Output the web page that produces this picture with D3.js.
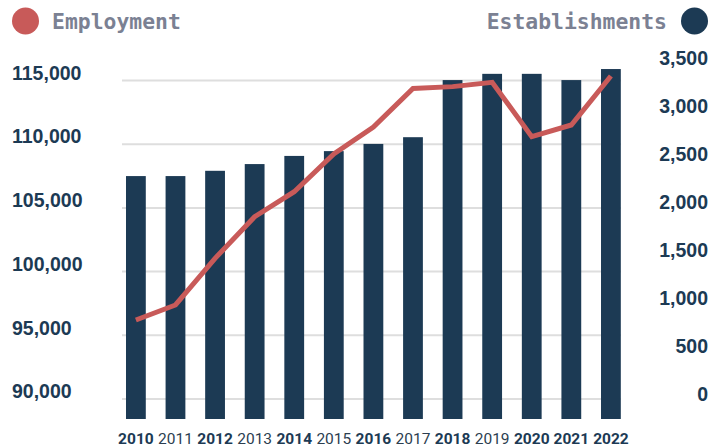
<!DOCTYPE html>
<html>
<head>
<meta charset="utf-8">
<script src="https://cdn.jsdelivr.net/npm/d3@7"></script>
<style>
  body { margin: 0; background: #fff; }
  svg { display: block; }
  .tick text { font-family: Roboto, sans-serif; }
  .yaxis .tick text { font-family: "Liberation Sans", Arial, sans-serif; }
</style>
</head>
<body>
<div id="chart"></div>
<script>
// data
const years = ["2010", "2011", "2012", "2013", "2014", "2015", "2016",
               "2017", "2018", "2019", "2020", "2021", "2022"];
const employment = [96160, 97340, 101000, 104270, 106230, 109200, 111300,
                    114340, 114480, 114820, 110550, 111470, 115310];
const establishments = [2270, 2270, 2325, 2395, 2480, 2530, 2605,
                        2675, 3270, 3335, 3335, 3270, 3385];
const leftTicks = [90000, 95000, 100000, 105000, 110000, 115000];
const rightTicks = [0, 500, 1000, 1500, 2000, 2500, 3000, 3500];
const boldYears = ["2010", "2012", "2014", "2016", "2018", "2020", "2021", "2022"];

const navy = "#1c3a54";
const red = "#c85a59";
const grey = "#7b8193";

const width = 722, height = 448;
const plotBottom = 419;

const svg = d3.select("#chart")
    .append("svg")
    .attr("width", width)
    .attr("height", height);

// scales
const x = d3.scaleBand()
    .domain(years)
    .range([116.1, 630.7])
    .paddingInner(0.5)
    .paddingOuter(0.25);

const yLeft = d3.scaleLinear()
    .domain([90000, 115000])
    .range([398.5, 80]);

const yRight = d3.scaleLinear()
    .domain([0, 3500])
    .range([394, 58]);

// gridlines
const grid = svg.append("g")
    .attr("transform", "translate(122,0)")
    .call(d3.axisRight(yLeft).tickValues(leftTicks).tickSize(499).tickFormat(""));
grid.select(".domain").remove();
grid.selectAll("line").attr("stroke", "#dedede").attr("stroke-width", 2);

// bars
svg.selectAll("rect.bar")
    .data(establishments)
    .enter()
    .append("rect")
    .attr("class", "bar")
    .attr("x", (d, i) => x(years[i]))
    .attr("width", x.bandwidth())
    .attr("y", d => yRight(d))
    .attr("height", d => plotBottom - yRight(d))
    .attr("fill", navy);

// employment line
svg.append("path")
    .datum(employment)
    .attr("fill", "none")
    .attr("stroke", red)
    .attr("stroke-width", 5)
    .attr("d", d3.line()
        .x((d, i) => x(years[i]) + x.bandwidth() / 2)
        .y(d => yLeft(d)));

// left axis
const leftAxis = svg.append("g")
    .attr("class", "yaxis")
    .attr("transform", "translate(12,0)")
    .call(d3.axisRight(yLeft).tickValues(leftTicks).tickSize(0).tickPadding(0)
        .tickFormat(d3.format(",")));
leftAxis.select(".domain").remove();
leftAxis.selectAll("text")
    .attr("y", -7)
    .attr("fill", navy)
    .style("font-size", "19.5px")
    .style("font-weight", 700);

// right axis
const rightAxis = svg.append("g")
    .attr("class", "yaxis")
    .attr("transform", "translate(708,0)")
    .call(d3.axisLeft(yRight).tickValues(rightTicks).tickSize(0).tickPadding(0)
        .tickFormat(d3.format(",")));
rightAxis.select(".domain").remove();
rightAxis.selectAll("text")
    .attr("fill", navy)
    .style("font-size", "19.5px")
    .style("font-weight", 700);

// x axis
const xAxis = svg.append("g")
    .attr("transform", "translate(0," + plotBottom + ")")
    .call(d3.axisBottom(x).tickSize(0).tickPadding(14));
xAxis.select(".domain").remove();
xAxis.selectAll("text")
    .attr("fill", d => boldYears.includes(d) ? navy : "#2c3e50")
    .style("font-size", "15.5px")
    .style("font-weight", d => boldYears.includes(d) ? 700 : 400);

// legend
svg.append("circle")
    .attr("cx", 25.5).attr("cy", 21).attr("r", 13.5)
    .attr("fill", red);
svg.append("text")
    .attr("x", 52).attr("y", 29)
    .attr("fill", grey)
    .style("font-family", "'DejaVu Sans Mono', monospace")
    .style("font-weight", 700)
    .style("font-size", "21.4px")
    .text("Employment");

svg.append("circle")
    .attr("cx", 694.5).attr("cy", 21).attr("r", 13.5)
    .attr("fill", navy);
svg.append("text")
    .attr("x", 667).attr("y", 29)
    .attr("text-anchor", "end")
    .attr("fill", grey)
    .style("font-family", "'DejaVu Sans Mono', monospace")
    .style("font-weight", 700)
    .style("font-size", "21.4px")
    .text("Establishments");
</script>
</body>
</html>
